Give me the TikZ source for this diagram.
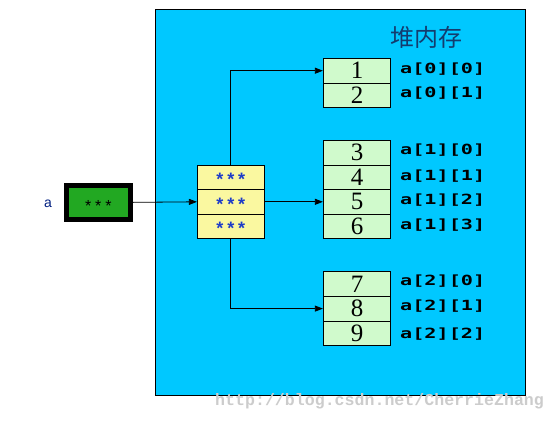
\documentclass[tikz,border=0pt]{standalone}
\usepackage{fontspec}
\setmainfont{Liberation Serif}
\newfontfamily\cjkfont{Noto Sans CJK SC}
\newfontfamily\monofont{Liberation Mono}
\newfontfamily\labmono{DejaVu Sans Mono}
\newfontfamily\sansf{Liberation Sans}
\usetikzlibrary{arrows.meta}
\definecolor{heapblue}{RGB}{0,200,255}
\definecolor{cellgreen}{RGB}{208,250,204}
\definecolor{ptryellow}{RGB}{250,248,160}
\definecolor{boxgreen}{RGB}{34,168,34}
\definecolor{titleblue}{RGB}{20,60,110}
\definecolor{starblue}{RGB}{30,60,200}
\definecolor{navy}{RGB}{0,30,128}
\tikzset{
  cell/.style={draw=black, line width=0.8pt, fill=cellgreen, minimum width=67.4pt, minimum height=24.6pt, inner sep=0pt, font=\fontsize{25}{25}\selectfont},
  ptr/.style={draw=black, line width=0.8pt, fill=ptryellow, minimum width=67pt, minimum height=24.6pt, inner sep=0pt, text=starblue, font=\sansf\bfseries\fontsize{18}{18}\selectfont},
  idx/.style={anchor=west, inner sep=0pt, font=\labmono\bfseries\fontsize{14}{14}\selectfont},
  link/.style={draw=black, line width=0.8pt, -{Triangle[length=8pt,width=6pt]}}
}
\newcommand{\idxtext}[1]{\scalebox{1.44}[1]{#1}}
\newcommand{\stars}{*\hspace{3.8pt}*\hspace{3.8pt}*}
\begin{document}
\begin{tikzpicture}[x=1pt,y=-1pt]
\useasboundingbox (0,0) rectangle (556,421);
% heap area
\node[draw=black, line width=1.2pt, fill=heapblue, minimum width=370pt, minimum height=386pt, inner sep=0pt, anchor=north west] (heap) at (155,9) {};
\node[font=\cjkfont\fontsize{24}{24}\selectfont, text=titleblue, inner sep=0pt] (title) at (426,37) {堆内存};
% variable a
\node[font=\sansf\fontsize{14}{14}\selectfont, text=navy, inner sep=0pt] (alab) at (48,204) {a};
\node[draw=black, line width=4.7pt, fill=boxgreen, minimum width=64pt, minimum height=34pt, inner sep=0pt, font=\sansf\fontsize{16}{16}\selectfont] (abox) at (98.35,202.35) {\raisebox{-9.2pt}[0pt][0pt]{\stars}};
% pointer array
\node[ptr] (p1) at (230.8,177.2) {\raisebox{-8.3pt}[0pt][0pt]{\stars}};
\node[ptr] (p2) at (230.8,201.8) {\raisebox{-8.3pt}[0pt][0pt]{\stars}};
\node[ptr] (p3) at (230.8,226.4) {\raisebox{-8.3pt}[0pt][0pt]{\stars}};
% row 0
\node[cell] (c1) at (357,70.7) {1};
\node[cell] (c2) at (357,95.3) {2};
% row 1
\node[cell] (c3) at (357,152.6) {3};
\node[cell] (c4) at (357,177.2) {4};
\node[cell] (c5) at (357,201.8) {5};
\node[cell] (c6) at (357,226.4) {6};
% row 2
\node[cell] (c7) at (357,284.0) {7};
\node[cell] (c8) at (357,308.6) {8};
\node[cell] (c9) at (357,333.2) {9};
% index labels
\node[idx] (l1) at (400,69.5) {\idxtext{a[0][0]}};
\node[idx] (l2) at (400,93.5) {\idxtext{a[0][1]}};
\node[idx] (l3) at (400,150.5) {\idxtext{a[1][0]}};
\node[idx] (l4) at (400,176) {\idxtext{a[1][1]}};
\node[idx] (l5) at (400,200.5) {\idxtext{a[1][2]}};
\node[idx] (l6) at (400,225) {\idxtext{a[1][3]}};
\node[idx] (l7) at (400,281.5) {\idxtext{a[2][0]}};
\node[idx] (l8) at (400,306) {\idxtext{a[2][1]}};
\node[idx] (l9) at (400,334.5) {\idxtext{a[2][2]}};
% connectors
\draw[link] (abox.east) -- (p2.west);
\draw[link] (p1.north) |- (c1.west);
\draw[link] (p2.east) -- (c5.west);
\draw[link] (p3.south) |- (c8.west);
% watermark
\node[anchor=west, inner sep=0pt, text=black!20, font=\monofont\bfseries\fontsize{16.6}{16.6}\selectfont] (wm) at (215,401) {http://blog.csdn.net/CherrieZhang};
\end{tikzpicture}
\end{document}
